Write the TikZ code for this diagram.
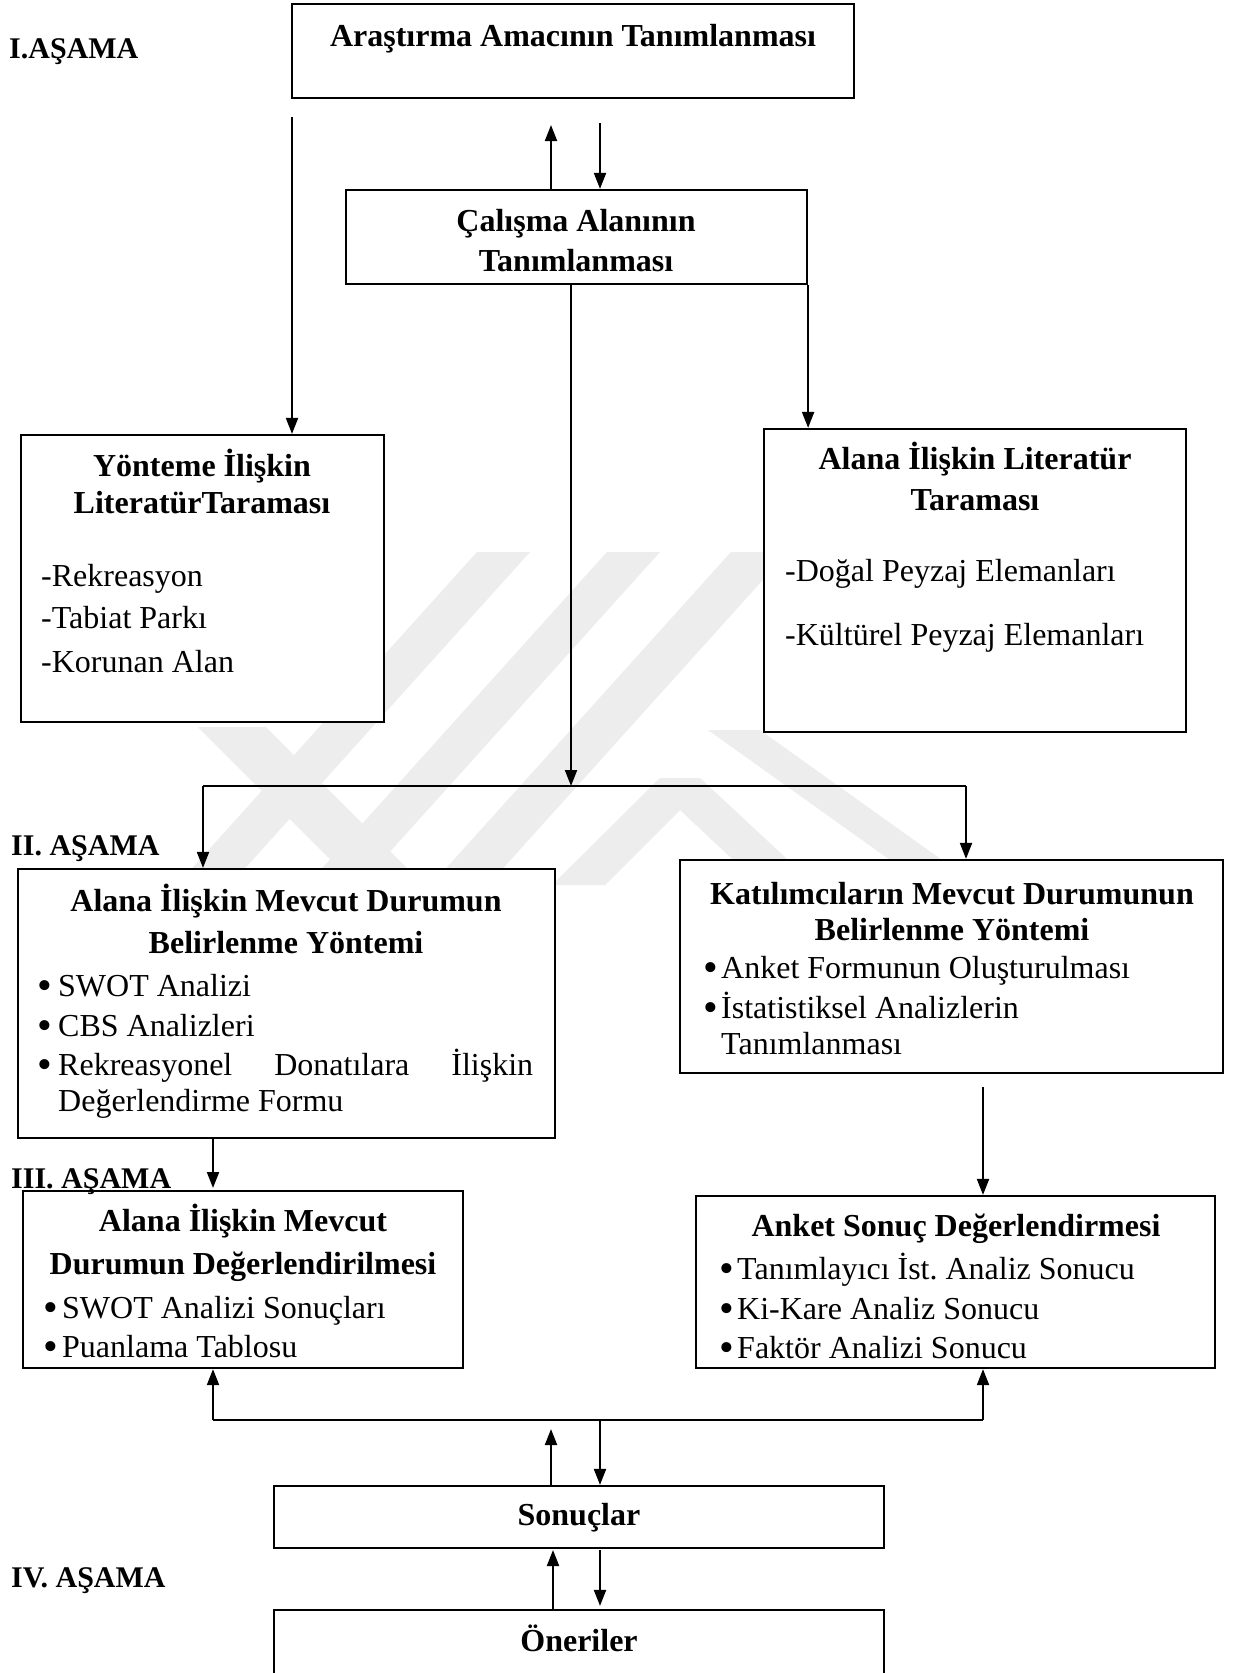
\documentclass[tikz,border=0pt]{standalone}
\usepackage{fontspec}
\setmainfont{Liberation Serif}
\usetikzlibrary{arrows.meta,fit}
\frenchspacing
\begin{document}
\begin{tikzpicture}[x=1pt,y=-1pt,
  box/.style={draw, fill=white, line width=2.2pt, inner sep=0pt},
  arr/.style={line width=2pt, -{Triangle[length=16pt,width=12pt]}},
  ln/.style={line width=2pt},
  ttl/.style={font=\fontsize{32}{38}\selectfont\bfseries, inner sep=0pt, anchor=base},
  itm/.style={font=\fontsize{32}{38}\selectfont, inner sep=0pt, anchor=base west},
  bul/.style={font=\fontsize{42}{46}\selectfont, inner sep=0pt, anchor=base},
  lbl/.style={font=\fontsize{30}{36}\selectfont\bfseries, inner sep=0pt, anchor=base west},
  wm/.style={fill=black!7, draw=none}]
\path[use as bounding box, fill=white] (0,0) rectangle (1234,1673);

% watermark (faint logo)
\fill[wm] (477,552) -- (530,552) -- (230,885) -- (177,885) -- cycle;
\fill[wm] (607,552) -- (660,552) -- (360,885) -- (307,885) -- cycle;
\fill[wm] (731,552) -- (788,552) -- (488,885) -- (431,885) -- cycle;
\fill[wm] (198,727) -- (266,727) -- (424,885) -- (356,885) -- cycle;
\fill[wm] (708,730) -- (760,730) -- (942,860) -- (890,860) -- cycle;
\fill[wm] (552,885) -- (660,778) -- (700,778) -- (815,885) -- (760,885) -- (680,810) -- (605,885) -- cycle;

% boxes
\node[box, fit={(292,4) (854,98)}] (A) {};
\node[box, fit={(346,190) (807,284)}] (C) {};
\node[box, fit={(21,435) (384,722)}] (Y) {};
\node[box, fit={(764,429) (1186,732)}] (L) {};
\node[box, fit={(18,869) (555,1138)}] (M) {};
\node[box, fit={(680,860) (1223,1073)}] (K) {};
\node[box, fit={(23,1191) (463,1368)}] (AD) {};
\node[box, fit={(696,1196) (1215,1368)}] (AS) {};
\node[box, fit={(274,1486) (884,1548)}] (S) {};
\node[box, fit={(274,1610) (884,1700)}] (O) {};

% stage labels
\node[lbl] (st1) at (9,58) {I.AŞAMA};
\node[lbl] (st2) at (11,855) {II. AŞAMA};
\node[lbl] (st3) at (11,1188) {III. AŞAMA};
\node[lbl] (st4) at (11,1587) {IV. AŞAMA};

% texts
\node[ttl] (tA) at (573,46) {Araştırma Amacının Tanımlanması};
\node[ttl] (tC1) at (576,231) {Çalışma Alanının};
\node[ttl] (tC2) at (576,271) {Tanımlanması};

\node[ttl] (tY1) at (202,476) {Yönteme İlişkin};
\node[ttl] (tY2) at (202,513) {LiteratürTaraması};
\node[itm] (y1) at (41,586) {-Rekreasyon};
\node[itm] (y2) at (41,628) {-Tabiat Parkı};
\node[itm] (y3) at (41,672) {-Korunan Alan};

\node[ttl] (tL1) at (975,469) {Alana İlişkin Literatür};
\node[ttl] (tL2) at (975,510) {Taraması};
\node[itm] (l1) at (785,581) {-Doğal Peyzaj Elemanları};
\node[itm] (l2) at (785,645) {-Kültürel Peyzaj Elemanları};

\node[ttl] (tM1) at (286,911) {Alana İlişkin Mevcut Durumun};
\node[ttl] (tM2) at (286,953) {Belirlenme Yöntemi};
\node[bul] (mb1) at (45,999) {•};
\node[bul] (mb2) at (45,1039) {•};
\node[bul] (mb3) at (45,1078) {•};
\node[itm] (m1) at (58,996) {SWOT Analizi};
\node[itm] (m2) at (58,1036) {CBS Analizleri};
\node[itm] (m3) at (58,1075) {\makebox[475pt][s]{Rekreasyonel Donatılara İlişkin}};
\node[itm] (m4) at (58,1111) {Değerlendirme Formu};

\node[ttl] (tK1) at (952,904) {Katılımcıların Mevcut Durumunun};
\node[ttl] (tK2) at (952,940) {Belirlenme Yöntemi};
\node[bul] (kb1) at (711,981) {•};
\node[bul] (kb2) at (711,1021) {•};
\node[itm] (k1) at (721,978) {Anket Formunun Oluşturulması};
\node[itm] (k2) at (721,1018) {İstatistiksel Analizlerin};
\node[itm] (k3) at (721,1054) {Tanımlanması};

\node[ttl] (tAD1) at (243,1231) {Alana İlişkin Mevcut};
\node[ttl] (tAD2) at (243,1274) {Durumun Değerlendirilmesi};
\node[bul] (db1) at (51,1321) {•};
\node[bul] (db2) at (51,1360) {•};
\node[itm] (d1) at (62,1318) {SWOT Analizi Sonuçları};
\node[itm] (d2) at (62,1357) {Puanlama Tablosu};

\node[ttl] (tAS) at (956,1236) {Anket Sonuç Değerlendirmesi};
\node[bul] (sb1) at (727,1282) {•};
\node[bul] (sb2) at (727,1322) {•};
\node[bul] (sb3) at (727,1361) {•};
\node[itm] (s1) at (737,1279) {Tanımlayıcı İst. Analiz Sonucu};
\node[itm] (s2) at (737,1319) {Ki-Kare Analiz Sonucu};
\node[itm] (s3) at (737,1358) {Faktör Analizi Sonucu};

\node[ttl] (tS) at (579,1525) {Sonuçlar};
\node[ttl] (tO) at (579,1651) {Öneriler};

% connector coordinates
\coordinate (ay) at (292,117);
\coordinate (cu) at (551,125);
\coordinate (cd) at (600,123);
\coordinate (cj) at (571,786);
\coordinate (jl) at (203,786);
\coordinate (jr) at (966,786);
\coordinate (mx) at (213,1188);
\coordinate (kx) at (983,1087);
\coordinate (bl) at (213,1420);
\coordinate (br) at (983,1420);
\coordinate (su) at (551,1429);
\coordinate (sd) at (600,1420);
\coordinate (ou) at (553,1550);
\coordinate (od) at (600,1550);

% connectors
\draw[arr] (ay) -- (ay |- Y.north);
\draw[arr] (cu |- C.north) -- (cu);
\draw[arr] (cd) -- (cd |- C.north);
\draw[arr] (C.south east) -- (C.south east |- L.north);
\draw[arr] (C.south -| cj) -- (cj);
\draw[ln] (jl) -- (jr);
\draw[arr] (jl) -- (jl |- M.north);
\draw[arr] (jr) -- (jr |- K.north);
\draw[arr] (M.south -| mx) -- (mx);
\draw[arr] (kx) -- (kx |- AS.north);
\draw[ln] (bl) -- (br);
\draw[arr] (bl) -- (bl |- AD.south);
\draw[arr] (br) -- (br |- AS.south);
\draw[arr] (su |- S.north) -- (su);
\draw[arr] (sd) -- (sd |- S.north);
\draw[arr] (ou |- O.north) -- (ou);
\draw[arr, shorten >=3pt] (od) -- (od |- O.north);
\end{tikzpicture}
\end{document}
